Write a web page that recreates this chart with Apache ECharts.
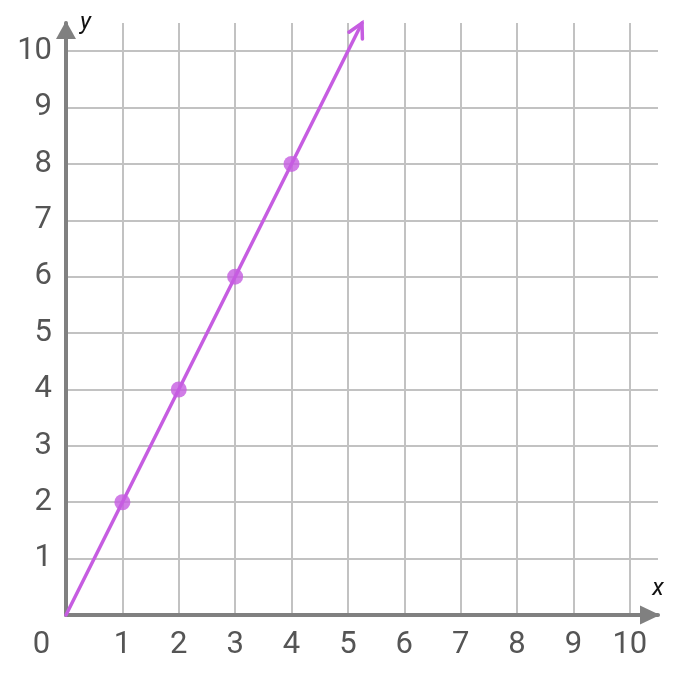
<!DOCTYPE html>
<html>
<head>
<meta charset="utf-8">
<script src="https://cdn.jsdelivr.net/npm/echarts@6/dist/echarts.min.js"></script>
<style>html,body{margin:0;padding:0;background:#fff}#c{width:680px;height:676px}</style>
</head>
<body>
<div id="c"></div>
<script>
// data
const lineX = [0, 1, 2, 3, 4, 5.25];
const lineY = [0, 2, 4, 6, 8, 10.5];
const pointX = [1, 2, 3, 4];
const pointY = [2, 4, 6, 8];
// arrowhead: tip (x,y) and a point back along the line
const arrowTip = [5.25, 10.5];
const arrowBack = [0, 0];
const axisMin = 0, axisMax = 10.5, axisStep = 1;

const purple = '#c65de1';
const labelColor = '#555555';
const gridColor = '#c2c2c2';
const axisColor = '#808080';

const chart = echarts.init(document.getElementById('c'));

function intLabel(v) { return Number.isInteger(v) ? String(v) : ''; }

chart.setOption({
  animation: false,
  grid: { left: 66, top: 23, width: 592, height: 592, containLabel: false },
  xAxis: {
    type: 'value', min: axisMin, max: axisMax, interval: axisStep,
    name: 'x', nameLocation: 'end', nameGap: 0,
    nameTextStyle: { fontFamily: 'Roboto', fontStyle: 'italic', fontSize: 24, color: '#111', align: 'center', verticalAlign: 'bottom', padding: [0, 0, 14, 0] },
    axisLine: { show: true, onZero: false, lineStyle: { color: axisColor, width: 4 }, symbol: ['none', 'triangle'], symbolSize: [19, 20], symbolOffset: [0, -8] },
    axisTick: { show: false },
    splitLine: { show: true, showMaxLine: false, lineStyle: { color: gridColor, width: 2 } },
    axisLabel: {
      margin: 15, fontFamily: 'Roboto', fontSize: 31, color: labelColor,
      formatter: function (v) { if (v === 0) return '{o|0}'; return intLabel(v); },
      rich: { o: { fontFamily: 'Roboto', fontSize: 31, color: labelColor, padding: [0, 49, 0, 0] } }
    }
  },
  yAxis: {
    type: 'value', min: axisMin, max: axisMax, interval: axisStep,
    name: 'y', nameLocation: 'end', nameGap: 0,
    nameTextStyle: { fontFamily: 'Roboto', fontStyle: 'italic', fontSize: 24, color: '#111', align: 'left', verticalAlign: 'middle', padding: [0, 0, 0, 14] },
    axisLine: { show: true, onZero: false, lineStyle: { color: axisColor, width: 4 }, symbol: ['none', 'triangle'], symbolSize: [20, 18], symbolOffset: [0, -7] },
    axisTick: { show: false },
    splitLine: { show: true, showMaxLine: false, lineStyle: { color: gridColor, width: 2 } },
    axisLabel: {
      margin: 14, fontFamily: 'Roboto', fontSize: 31, color: labelColor,
      showMinLabel: false, padding: [4, 0, 0, 0],
      formatter: intLabel
    }
  },
  series: [
    {
      type: 'line', data: lineX.map((x, i) => [x, lineY[i]]),
      showSymbol: false, clip: false, z: 3,
      lineStyle: { color: purple, width: 3.5, cap: 'round' }
    },
    {
      type: 'scatter', data: pointX.map((x, i) => [x, pointY[i]]),
      symbol: 'circle', symbolSize: 16, z: 4,
      itemStyle: { color: purple }
    },
    {
      type: 'custom', clip: false, z: 4,
      data: [[arrowTip[0], arrowTip[1], arrowBack[0], arrowBack[1]]],
      encode: { x: 0, y: 1 },
      renderItem: function (params, api) {
        const tip = api.coord([api.value(0), api.value(1)]);
        const back = api.coord([api.value(2), api.value(3)]);
        let dx = back[0] - tip[0], dy = back[1] - tip[1];
        const len = Math.sqrt(dx * dx + dy * dy);
        dx /= len; dy /= len;
        const a = 28 * Math.PI / 180, L = 16;
        const p1 = [tip[0] + L * (dx * Math.cos(a) - dy * Math.sin(a)), tip[1] + L * (dx * Math.sin(a) + dy * Math.cos(a))];
        const p2 = [tip[0] + L * (dx * Math.cos(-a) - dy * Math.sin(-a)), tip[1] + L * (dx * Math.sin(-a) + dy * Math.cos(-a))];
        return {
          type: 'polyline',
          shape: { points: [p1, tip, p2] },
          style: { stroke: purple, lineWidth: 3.5, fill: null, lineCap: 'round', lineJoin: 'miter' }
        };
      }
    }
  ]
});
</script>
</body>
</html>
